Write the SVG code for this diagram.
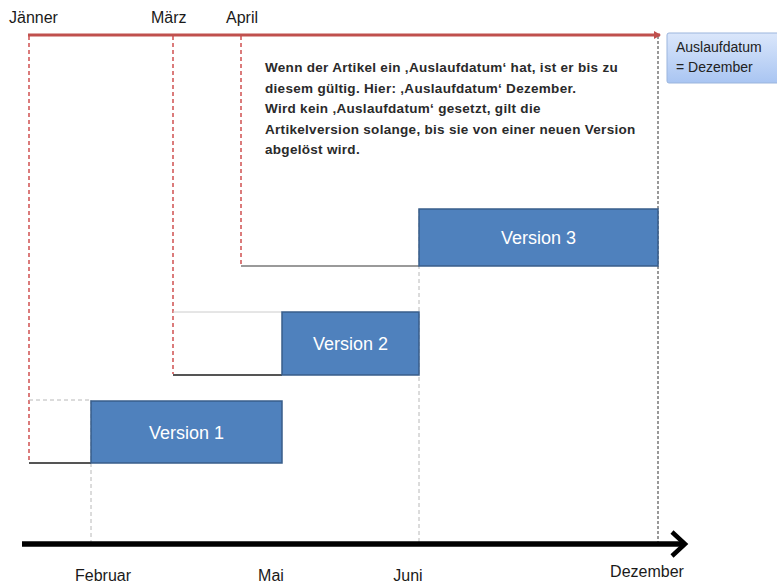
<svg xmlns="http://www.w3.org/2000/svg" width="777" height="584" viewBox="0 0 777 584">
<defs>
<marker id="redhead" markerWidth="8" markerHeight="8" refX="6" refY="4" orient="auto" markerUnits="userSpaceOnUse">
<path d="M0,0 L7,4 L0,8 Z" fill="#c0504d"/>
</marker>
<linearGradient id="blueGrad" x1="0" y1="0" x2="0" y2="1">
<stop offset="0" stop-color="#dbe7fb"/>
<stop offset="1" stop-color="#a9c5f2"/>
</linearGradient>
</defs>
<style>
.lbl{font-family:"Liberation Sans",Arial,sans-serif;font-size:16px;fill:#1a1a1a}
.ver{font-family:"Liberation Sans",Arial,sans-serif;font-size:18px;fill:#ffffff;text-anchor:middle}
.note{font-family:"Liberation Sans",Arial,sans-serif;font-size:13.5px;font-weight:bold;letter-spacing:0.3px;fill:#2a2a2a}
.tag{font-family:"Liberation Sans",Arial,sans-serif;font-size:14px;fill:#222}
.box{fill:#4f81bd;stroke:#385d8a;stroke-width:1.5}
.reddash{stroke:#d05050;stroke-width:1.5;stroke-dasharray:4,3;fill:none}
.graydash{stroke:#b8b8b8;stroke-width:1;stroke-dasharray:4,3;fill:none}
.blackdash{stroke:#333;stroke-width:1;stroke-dasharray:3,2;fill:none}
.base{stroke:#555;stroke-width:2;fill:none}
.lightline{stroke:#ccc;stroke-width:1;fill:none}
</style>
<rect width="777" height="584" fill="#ffffff"/>
<g id="connectors">
<line class="graydash" x1="91" y1="400" x2="91" y2="545"/>
<line class="graydash" x1="419" y1="209" x2="419" y2="545"/>
<line class="blackdash" x1="658" y1="36" x2="658" y2="542"/>
<line class="reddash" x1="29" y1="36" x2="29" y2="462"/>
<line class="reddash" x1="173" y1="36" x2="173" y2="374"/>
<line class="reddash" x1="241" y1="36" x2="241" y2="266"/>
<line x1="28" y1="35" x2="660" y2="35" stroke="#c0504d" stroke-width="3" marker-end="url(#redhead)"/>
<line class="graydash" x1="29" y1="400" x2="91" y2="400"/>
<line class="lightline" x1="173" y1="312" x2="282" y2="312"/>
<line class="base" x1="29" y1="463" x2="91" y2="463"/>
<line class="base" x1="173" y1="375" x2="282" y2="375"/>
<line class="base" x1="241" y1="266" x2="419" y2="266" style="stroke:#9a9a9a"/>
<line x1="22" y1="544" x2="682" y2="544" stroke="#000" stroke-width="5.5"/>
<polyline points="672,532 685,544 672,556" fill="none" stroke="#000" stroke-width="4.5" stroke-linejoin="miter"/>
</g>
<g id="version1">
<rect class="box" x="91" y="401" width="191" height="62"/>
<text class="ver" x="186.5" y="439">Version 1</text>
</g>
<g id="version2">
<rect class="box" x="282" y="312" width="137" height="63"/>
<text class="ver" x="350.5" y="350">Version 2</text>
</g>
<g id="version3">
<rect class="box" x="419" y="209" width="239" height="57"/>
<text class="ver" x="538.5" y="244">Version 3</text>
</g>
<g id="auslaufdatum">
<rect x="667" y="33" width="115" height="50" rx="2" fill="url(#blueGrad)" stroke="#9bb5dd" stroke-width="1"/>
<text class="tag" x="676" y="52">Auslaufdatum</text>
<text class="tag" x="676" y="72">= Dezember</text>
</g>
<g id="note">
<text class="note" x="265" y="72">Wenn der Artikel ein ‚Auslaufdatum‘ hat, ist er bis zu</text>
<text class="note" x="265" y="92.5">diesem gültig. Hier: ‚Auslaufdatum‘ Dezember.</text>
<text class="note" x="265" y="113">Wird kein ‚Auslaufdatum‘ gesetzt, gilt die</text>
<text class="note" x="265" y="133.5">Artikelversion solange, bis sie von einer neuen Version</text>
<text class="note" x="265" y="154">abgelöst wird.</text>
</g>
<g id="labels">
<text class="lbl" x="9" y="23">Jänner</text>
<text class="lbl" x="151" y="23">März</text>
<text class="lbl" x="226" y="23">April</text>
<text class="lbl" x="103" y="581" text-anchor="middle">Februar</text>
<text class="lbl" x="271" y="581" text-anchor="middle">Mai</text>
<text class="lbl" x="408" y="581" text-anchor="middle">Juni</text>
<text class="lbl" x="647" y="577" text-anchor="middle">Dezember</text>
</g>
</svg>
